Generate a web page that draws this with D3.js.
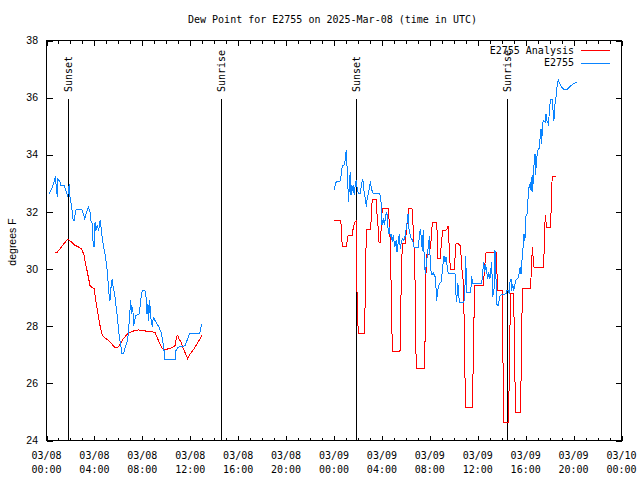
<!DOCTYPE html>
<html><head><meta charset="utf-8">
<script src="https://cdn.jsdelivr.net/npm/d3@7"></script>
<style>body{margin:0;background:#fff}svg{display:block}</style>
</head><body>
<svg id="chart" width="640" height="480"></svg>
<script>
// ---------------- data ----------------
const chartTitle = "Dew Point for E2755 on 2025-Mar-08 (time in UTC)";
const yAxisLabel = "degrees F";
const yTickValues = [24, 26, 28, 30, 32, 34, 36, 38];
const xMajorTickHours = [0, 4, 8, 12, 16, 20, 24, 28, 32, 36, 40, 44, 48];
const startUTC = Date.UTC(2025, 2, 8, 0, 0);
const seriesNames = ["E2755 Analysis", "E2755"];
const seriesColors = ["#ff0000", "#0a84ff"];
const sunLabels = ["Sunset", "Sunrise", "Sunset", "Sunrise"];
const sunHours = [1.80, 14.57, 25.84, 38.47];

// Analysis (red), hours since 2025-03-08 00:00 UTC
const analysisHoursA = [0.71,0.90,1.13,1.40,1.77,2.10,2.38,2.65,2.94,3.13,3.27,3.44,3.63,3.77,3.97,4.11,4.27,4.47,4.66,4.80,5.11,5.44,5.74,5.94,6.14,6.41,6.69,6.97,7.39,7.66,8.08,8.50,9.06,9.28,9.47,9.67,9.83,10.17,10.45,10.73,10.87,10.95,11.06,11.23,11.42,11.62,11.79,11.98,12.25,12.54,12.81,12.96];
const analysisValuesA = [30.59,30.59,30.71,30.86,31.05,30.94,30.83,30.78,30.71,30.48,30.18,29.83,29.43,29.37,29.31,28.90,28.49,28.02,27.68,27.62,27.52,27.38,27.24,27.24,27.38,27.56,27.70,27.79,27.85,27.87,27.85,27.81,27.79,27.56,27.38,27.21,27.17,27.21,27.24,27.32,27.64,27.68,27.56,27.44,27.21,27.03,26.86,27.03,27.17,27.36,27.56,27.67];
const analysisHoursB = [24.00,24.56,24.61,24.69,25.06,25.11,25.17,25.53,25.61,25.73,25.84,25.86,25.94,26.03,26.53,26.59,26.65,26.73,27.01,27.09,27.15,27.20,27.51,27.56,27.65,27.70,27.76,27.87,27.92,27.98,28.03,28.53,28.59,28.67,28.73,28.82,28.87,29.51,29.57,29.62,29.68,29.74,29.95,30.07,30.18,30.24,30.51,30.57,30.68,30.76,30.82,30.87,31.54,31.60,31.65,31.74,31.96,32.10,32.21,32.52,32.60,32.68,32.85,32.99,33.07,33.41,33.52,33.57,33.66,33.74,34.02,34.10,34.18,34.29,34.52,34.60,34.71,34.79,34.91,34.96,35.55,35.60,35.69,35.77,36.46,36.61,36.69,37.58,37.63,38.05,38.08,38.13,38.19,38.55,38.61,38.69,38.75,38.97,39.05,39.11,39.19,39.59,39.61,39.69,39.72,40.42,40.44,40.50,40.55,40.64,40.70,41.47,41.53,41.59,41.64,41.70,41.76,42.09,42.11,42.17,42.22,42.53];
const analysisValuesB = [31.70,31.70,31.44,30.79,30.79,31.06,31.17,31.17,31.47,31.64,31.68,30.71,28.73,27.73,27.73,28.67,30.48,31.37,31.37,31.64,32.23,32.42,32.42,32.05,31.70,31.29,30.93,30.93,31.29,31.78,32.11,32.11,31.76,31.23,30.30,28.20,27.13,27.13,28.08,30.18,30.53,30.88,30.88,31.47,31.88,32.11,32.11,31.76,30.77,29.72,27.62,26.51,26.51,27.50,29.54,30.51,30.51,31.00,31.62,31.62,31.35,30.36,30.36,31.00,31.35,31.37,31.52,31.23,30.30,29.97,29.97,30.36,30.88,30.91,30.83,30.51,29.83,29.60,27.38,25.17,25.17,26.22,28.34,29.43,29.43,30.24,30.57,30.57,29.25,29.25,27.97,25.75,24.64,24.64,25.75,27.97,29.13,29.13,27.97,26.04,24.97,24.97,26.04,28.26,29.31,29.31,29.66,30.07,30.78,30.30,30.07,30.07,30.50,31.41,31.88,31.64,31.47,31.47,31.88,32.81,33.24,33.24];

// Observations (blue)
const obsHoursA = [0.21,0.43,0.63,0.73,0.85,0.90,0.96,1.13,1.21,1.49,1.60,1.71,1.77,1.90,1.96,2.10,2.21,2.30,2.35,2.46,2.65,2.94,3.07,3.19,3.30,3.49,3.63,3.71,3.82,3.88,3.97,4.05,4.11,4.24,4.36,4.47,4.55,4.63,4.77,4.91,5.05,5.13,5.22,5.30,5.41,5.49,5.58,5.69,5.78,5.86,5.94,6.05,6.22,6.28,6.44,6.58,6.75,6.83,6.95,7.03,7.11,7.20,7.28,7.36,7.47,7.72,7.83,7.91,8.00,8.22,8.31,8.39,8.47,8.53,8.61,8.70,8.83,8.92,9.06,9.22,9.39,9.56,9.70,9.81,9.89,10.73,10.81,11.00,11.29,11.56,11.84,11.92,12.79,12.87,12.96];
const obsValuesA = [32.63,32.81,33.04,33.24,32.75,32.52,33.16,33.04,32.93,32.93,32.75,32.63,32.52,32.98,32.52,32.17,31.76,31.70,31.82,32.07,32.10,32.10,31.93,31.76,31.93,32.17,31.99,31.70,31.58,31.00,30.77,31.64,31.35,31.52,31.35,31.70,31.47,31.17,30.77,30.47,30.01,29.60,29.13,28.90,29.48,29.66,29.31,29.13,28.78,28.55,28.20,27.73,27.27,27.06,27.06,27.27,27.50,27.73,28.43,28.90,28.43,28.66,28.02,28.20,28.37,28.43,28.72,29.07,29.25,29.25,29.02,28.43,28.78,28.20,28.90,28.31,27.97,28.31,28.20,28.08,27.97,27.79,27.50,27.15,26.82,26.82,27.15,27.27,27.29,27.32,27.62,27.73,27.73,27.91,28.08];
const obsHoursB = [24.00,24.14,24.23,24.50,24.58,24.64,24.73,24.83,24.92,24.98,25.03,25.09,25.17,25.23,25.28,25.36,25.42,25.50,25.56,25.61,25.69,25.78,25.86,25.94,26.03,26.17,26.25,26.36,26.45,26.50,26.59,26.70,26.78,26.90,26.98,27.06,27.11,27.20,27.28,27.56,27.73,27.87,27.95,28.01,28.12,28.20,28.32,28.40,28.48,28.53,28.62,28.70,28.78,28.87,28.95,29.07,29.18,29.26,29.34,29.45,29.53,29.62,29.70,29.82,29.93,30.01,30.12,30.18,30.26,30.34,30.45,30.57,30.68,31.04,31.12,31.20,31.29,31.37,31.45,31.54,31.62,31.71,31.79,31.87,31.96,32.04,32.12,32.21,32.29,32.46,32.54,32.57,32.66,32.79,32.93,33.02,33.10,33.18,33.27,33.35,33.46,33.54,34.10,34.18,34.24,34.33,34.38,34.46,34.85,34.94,34.99,35.08,35.41,35.49,35.58,36.33,36.41,36.50,36.58,36.66,36.83,36.91,37.02,37.16,37.25,37.36,37.44,37.52,37.58,37.69,37.86,38.00,38.36,38.42,38.55,38.63,38.69,38.78,38.83,38.92,39.00,39.08,39.19,39.42,39.47,39.55,39.61,39.69,39.80,39.86,39.92,39.97,40.03,40.11,40.17,40.22,40.30,40.39,40.45,40.50,40.55,40.59,40.67,40.72,40.78,40.84,40.89,40.97,41.06,41.14,41.20,41.28,41.34,41.39,41.47,41.64,41.70,41.76,41.89,41.97,42.06,42.22,42.31,42.36,42.45,42.53,42.61,42.72,42.86,43.01,43.20,43.42,43.70,43.98,44.26];
const obsValuesB = [32.77,33.01,33.07,33.07,33.22,33.47,33.63,33.63,33.80,34.03,34.17,33.57,32.81,32.34,33.10,33.39,32.58,32.93,32.75,32.93,32.58,32.98,33.10,32.81,32.64,32.64,32.81,33.12,33.04,32.75,32.52,32.19,32.52,32.69,32.93,33.08,32.81,32.73,32.64,32.64,32.66,32.58,32.23,31.53,31.79,31.53,31.88,31.99,31.76,31.23,31.47,31.12,31.23,30.94,31.18,30.77,31.00,30.59,30.88,31.21,30.71,30.94,31.06,31.00,31.14,31.35,31.70,31.93,31.41,31.23,31.06,31.00,30.77,30.77,31.12,31.41,31.12,30.65,31.35,30.30,29.83,30.18,30.47,30.77,31.14,30.18,29.83,29.81,29.86,29.72,29.19,28.90,29.27,29.48,29.54,29.83,30.18,30.47,30.24,30.42,30.07,29.83,29.83,29.13,28.84,29.51,29.37,28.84,28.84,29.48,30.44,29.19,29.19,29.74,29.48,29.48,29.89,30.24,29.89,30.18,29.66,29.89,29.66,30.24,29.02,29.31,30.65,29.72,28.78,28.72,29.07,29.11,29.13,29.25,29.25,29.13,29.54,29.66,29.25,29.48,29.25,29.43,29.62,29.72,29.95,30.07,29.83,30.30,30.83,31.23,31.00,31.18,31.88,31.93,32.28,32.63,32.93,33.01,32.75,33.12,33.28,32.69,33.59,33.68,34.03,33.28,33.80,34.03,34.21,34.21,34.56,34.91,34.38,34.97,35.20,35.14,35.43,35.20,35.08,35.43,35.92,35.92,35.43,35.20,35.78,36.02,36.37,36.62,36.48,36.37,36.27,36.27,36.39,36.48,36.55];

// ---------------- drawing ----------------
const W = 640, H = 480;
const L = 46.5, R = 621.5, T = 40.5, B = 440.5;
const mono = "'DejaVu Sans Mono', monospace";
const sans = "'Liberation Sans', Arial, sans-serif";
const hourToDate = h => new Date(startUTC + h * 3600000);

const svg = d3.select("#chart");
svg.append("rect").attr("width", W).attr("height", H).attr("fill", "#fff");

const x = d3.scaleUtc().domain([hourToDate(0), hourToDate(48)]).range([L, R]);
const y = d3.scaleLinear().domain([24, 38]).range([B, T]);

const minorDates = d3.range(0, 49, 1).filter(h => h % 4 !== 0).map(hourToDate);
const majorDates = xMajorTickHours.map(hourToDate);

function tickAxis(axis, tx, ty) {
  const g = svg.append("g").attr("transform", `translate(${tx},${ty})`).call(axis);
  g.select(".domain").remove();
  g.selectAll("text").remove();
  g.selectAll("line").attr("stroke", "#000").attr("shape-rendering", "crispEdges");
  return g;
}
// bottom & top (inward ticks)
tickAxis(d3.axisBottom(x).tickValues(majorDates).tickSize(-5).tickFormat(""), 0, B);
tickAxis(d3.axisBottom(x).tickValues(minorDates).tickSize(-3).tickFormat(""), 0, B);
tickAxis(d3.axisTop(x).tickValues(majorDates).tickSize(-5).tickFormat(""), 0, T);
tickAxis(d3.axisTop(x).tickValues(minorDates).tickSize(-3).tickFormat(""), 0, T);
// left & right
tickAxis(d3.axisLeft(y).tickValues(yTickValues).tickSize(-6).tickFormat(""), L, 0);
tickAxis(d3.axisRight(y).tickValues(yTickValues).tickSize(-6).tickFormat(""), R, 0);

// frame
svg.append("rect").attr("x", L).attr("y", T).attr("width", R - L).attr("height", B - T)
  .attr("fill", "none").attr("stroke", "#000").attr("shape-rendering", "crispEdges");

// y tick labels
svg.append("g").selectAll("text").data(yTickValues).join("text")
  .attr("x", 38).attr("y", d => y(d)).attr("dy", "0.35em")
  .attr("text-anchor", "end").attr("font-family", sans).attr("font-size", 10.5)
  .text(d => d);

// x tick labels (two lines)
const fmtDate = d3.utcFormat("%m/%d"), fmtTime = d3.utcFormat("%H:%M");
const xl = svg.append("g").selectAll("text").data(majorDates).join("text")
  .attr("text-anchor", "middle").attr("font-family", mono).attr("font-size", 10);
xl.append("tspan").attr("x", d => x(d)).attr("y", 459).text(d => fmtDate(d));
xl.append("tspan").attr("x", d => x(d)).attr("y", 473).text(d => fmtTime(d));

// y axis label
svg.append("text").attr("transform", `translate(12,242) rotate(-90)`)
  .attr("text-anchor", "middle").attr("dy", "0.35em")
  .attr("font-family", sans).attr("font-size", 10.5).text(yAxisLabel);

// title
svg.append("text").attr("x", 332.5).attr("y", 23).attr("text-anchor", "middle")
  .attr("font-family", mono).attr("font-size", 10).text(chartTitle);

// sunrise / sunset markers
const sun = svg.append("g");
sunHours.forEach((h, i) => {
  const sx = Math.round(x(hourToDate(h))) + 0.5;
  sun.append("line").attr("x1", sx).attr("x2", sx).attr("y1", 99).attr("y2", B)
    .attr("stroke", "#000").attr("shape-rendering", "crispEdges");
  sun.append("text").attr("transform", `translate(${sx},92) rotate(-90)`)
    .attr("dy", "0.35em").attr("text-anchor", "start")
    .attr("font-family", mono).attr("font-size", 10).text(sunLabels[i]);
});

// data lines
const line = d3.line().x(d => x(hourToDate(d[0]))).y(d => y(d[1]));
const zip = (hs, vs) => hs.map((h, i) => [h, vs[i]]);
const segs = [
  [zip(analysisHoursA, analysisValuesA), 0],
  [zip(analysisHoursB, analysisValuesB), 0],
  [zip(obsHoursA, obsValuesA), 1],
  [zip(obsHoursB, obsValuesB), 1]
];
segs.forEach(([pts, s]) => {
  svg.append("path").datum(pts).attr("d", line)
    .attr("fill", "none").attr("stroke", seriesColors[s]).attr("stroke-width", 1)
    .attr("shape-rendering", "crispEdges");
});

// legend
seriesNames.forEach((name, i) => {
  const ly = 50 + i * 12.5;
  svg.append("text").attr("x", 574).attr("y", ly).attr("dy", "0.35em")
    .attr("text-anchor", "end").attr("font-family", mono).attr("font-size", 10).text(name);
  svg.append("line").attr("x1", 581).attr("x2", 610).attr("y1", Math.round(ly) + 0.5).attr("y2", Math.round(ly) + 0.5)
    .attr("stroke", seriesColors[i]).attr("shape-rendering", "crispEdges");
});
</script>
</body></html>
